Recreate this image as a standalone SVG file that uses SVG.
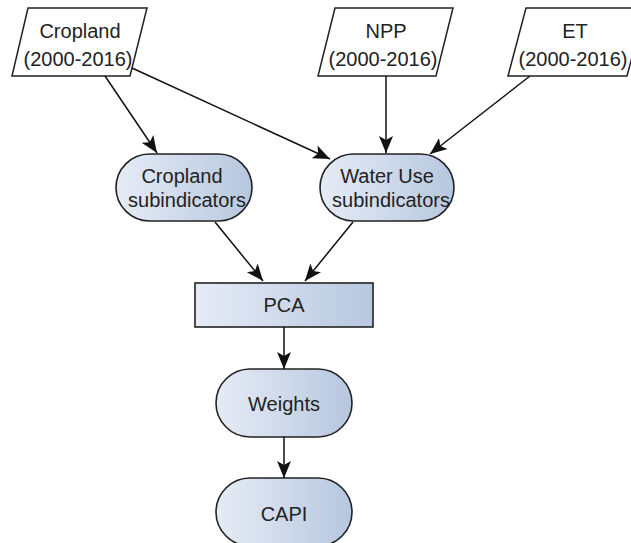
<svg xmlns="http://www.w3.org/2000/svg" width="631" height="543" viewBox="0 0 631 543">
  <defs>
    <linearGradient id="g" x1="0" y1="0" x2="1" y2="0">
      <stop offset="0" stop-color="#e6ecf6"/>
      <stop offset="1" stop-color="#b7c7df"/>
    </linearGradient>
    <marker id="arr" markerUnits="userSpaceOnUse" markerWidth="18" markerHeight="16" refX="17" refY="8" orient="auto">
      <path d="M0,1 L17,8 L0,15 L4,8 z" fill="#111"/>
    </marker>
    <style>
      .para { fill: #fff; stroke: #222; stroke-width: 1.5; }
      .node { fill: url(#g); stroke: #222; stroke-width: 1.6; }
      .t { font-family: "Liberation Sans", Arial, sans-serif; font-size: 20px; fill: #222; text-anchor: middle; }
      .c { stroke: #111; stroke-width: 1.5; fill: none; marker-end: url(#arr); }
    </style>
  </defs>
  <rect width="631" height="543" fill="#fff"/>

  <g id="cropland-input">
    <polygon class="para" points="28,8 147,8 130,76 12,76"/>
    <text class="t" x="80" y="38">Cropland</text>
    <text class="t" x="78" y="66">(2000-2016)</text>
  </g>
  <g id="npp-input">
    <polygon class="para" points="335,8 453,8 436,76 318,76"/>
    <text class="t" x="386" y="38">NPP</text>
    <text class="t" x="383" y="66">(2000-2016)</text>
  </g>
  <g id="et-input">
    <polygon class="para" points="526,8 645,8 627,76 508,76"/>
    <text class="t" x="575" y="38">ET</text>
    <text class="t" x="573" y="66">(2000-2016)</text>
  </g>

  <g id="cropland-sub">
    <rect class="node" x="116" y="154" width="136" height="67" rx="33.5" ry="33.5"/>
    <text class="t" x="182" y="183">Cropland</text>
    <text class="t" x="187" y="207">subindicators</text>
  </g>
  <g id="wateruse-sub">
    <rect class="node" x="320" y="154" width="134" height="67" rx="33.5" ry="33.5"/>
    <text class="t" x="387" y="183">Water Use</text>
    <text class="t" x="391" y="207">subindicators</text>
  </g>
  <g id="pca">
    <rect class="node" x="195" y="283" width="178" height="44"/>
    <text class="t" x="284" y="312">PCA</text>
  </g>
  <g id="weights">
    <rect class="node" x="216" y="369" width="136" height="68" rx="34" ry="34"/>
    <text class="t" x="284" y="411">Weights</text>
  </g>
  <g id="capi">
    <rect class="node" x="216" y="478" width="136" height="68" rx="34" ry="34"/>
    <text class="t" x="284" y="521">CAPI</text>
  </g>

  <g id="connectors">
    <line class="c" x1="105" y1="76" x2="157" y2="153"/>
    <line class="c" x1="132" y1="68" x2="330" y2="159"/>
    <line class="c" x1="386" y1="76" x2="386" y2="153"/>
    <line class="c" x1="530" y1="76" x2="430" y2="154"/>
    <line class="c" x1="215" y1="222" x2="263" y2="281"/>
    <line class="c" x1="353" y1="222" x2="305" y2="281"/>
    <line class="c" x1="284" y1="327" x2="284" y2="369"/>
    <line class="c" x1="284" y1="437" x2="284" y2="478"/>
  </g>
</svg>
